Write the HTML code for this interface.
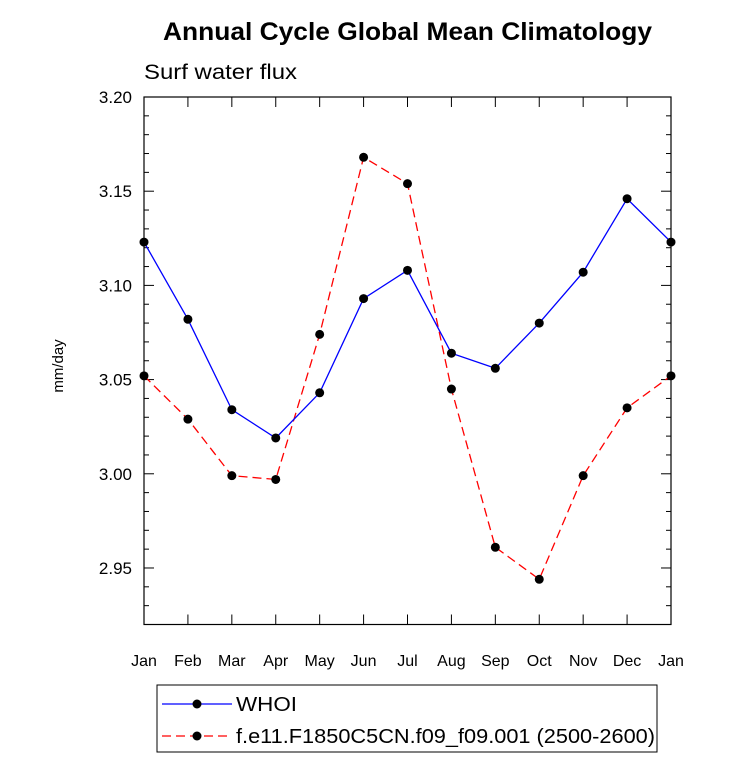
<!DOCTYPE html>
<html><head><meta charset="utf-8"><style>
body{margin:0;background:#fff;}
svg{font-family:"Liberation Sans",Arial,sans-serif;}
</style></head><body>
<svg id="chart" width="733" height="761" viewBox="0 0 733 761" xmlns="http://www.w3.org/2000/svg">
<text x="163" y="40" font-size="25" font-weight="bold" textLength="489" lengthAdjust="spacingAndGlyphs">Annual Cycle Global Mean Climatology</text>
<text x="144" y="79" font-size="21" textLength="153" lengthAdjust="spacingAndGlyphs">Surf water flux</text>
<text transform="translate(63,366) rotate(-90)" text-anchor="middle" font-size="15">mm/day</text>
<g id="axes"></g>
<g id="series"></g>
<rect x="157" y="685" width="500" height="67" fill="none" stroke="#000" stroke-width="1"/>
<g>
<line x1="162" y1="704" x2="232" y2="704" stroke="#0000ff" stroke-width="1.3"/>
<circle cx="197" cy="704" r="4.5" fill="#000"/>
<text x="236" y="711" font-size="20" textLength="61" lengthAdjust="spacingAndGlyphs">WHOI</text>
</g>
<g>
<line x1="162" y1="736" x2="232" y2="736" stroke="#ff0000" stroke-width="1.3" stroke-dasharray="9,5"/>
<circle cx="197" cy="736" r="4.5" fill="#000"/>
<text x="236" y="743" font-size="20" textLength="419" lengthAdjust="spacingAndGlyphs">f.e11.F1850C5CN.f09_f09.001 (2500-2600)</text>
</g>
</svg>
<script>
const months=["Jan","Feb","Mar","Apr","May","Jun","Jul","Aug","Sep","Oct","Nov","Dec","Jan"];
const whoi=[3.123,3.082,3.034,3.019,3.043,3.093,3.108,3.064,3.056,3.080,3.107,3.146,3.123];
const model=[3.052,3.029,2.999,2.997,3.074,3.168,3.154,3.045,2.961,2.944,2.999,3.035,3.052];
const yTicks=[3.20,3.15,3.10,3.05,3.00,2.95];
const yMin=2.92,yMax=3.20;
const X0=144,X1=671,Y0=97,Y1=624.5;
const NS="http://www.w3.org/2000/svg";
function xs(i){return X0+(X1-X0)*i/(months.length-1);}
function ys(v){return Y0+(yMax-v)/(yMax-yMin)*(Y1-Y0);}
function mk(tag,attrs,parent){const e=document.createElementNS(NS,tag);for(const k in attrs)e.setAttribute(k,attrs[k]);parent.appendChild(e);return e;}
const ax=document.getElementById('axes');
const frame=mk('rect',{x:X0,y:Y0,width:X1-X0,height:Y1-Y0,fill:'none',stroke:'#000','stroke-width':1.2},ax);


for(let v=2.92;v<=3.2001;v+=0.01){
  const y=ys(v);const major=yTicks.some(t=>Math.abs(t-v)<1e-6);const L=major?10:5;
  mk('line',{x1:X0,y1:y,x2:X0+L,y2:y,stroke:'#000'},ax);
  mk('line',{x1:X1,y1:y,x2:X1-L,y2:y,stroke:'#000'},ax);
}
yTicks.forEach(t=>{
  const tx=mk('text',{x:132,y:ys(t)+6,'text-anchor':'end','font-size':17},ax);
  tx.textContent=t.toFixed(2);
  
  
});
months.forEach((m,i)=>{
  const x=xs(i);
  mk('line',{x1:x,y1:Y1,x2:x,y2:Y1-10,stroke:'#000'},ax);
  mk('line',{x1:x,y1:Y0,x2:x,y2:Y0+10,stroke:'#000'},ax);
  const tx=mk('text',{x:x,y:666,'text-anchor':'middle','font-size':16},ax);
  tx.textContent=m;
  
  
});
const sg=document.getElementById('series');
function draw(data,color,dash,name){
  const g=mk('g',{},sg);
  
  
  const pts=data.map((v,i)=>xs(i)+','+ys(v)).join(' ');
  const a={points:pts,fill:'none',stroke:color,'stroke-width':1.3};
  if(dash)a['stroke-dasharray']=dash;
  mk('polyline',a,g);
  data.forEach((v,i)=>{
    const c=mk('circle',{cx:xs(i),cy:ys(v),r:4.5,fill:'#000'},g);
    
    
  });
}
draw(model,'#ff0000','9,5','series-model');
draw(whoi,'#0000ff',null,'series-whoi');
</script>
</body></html>
